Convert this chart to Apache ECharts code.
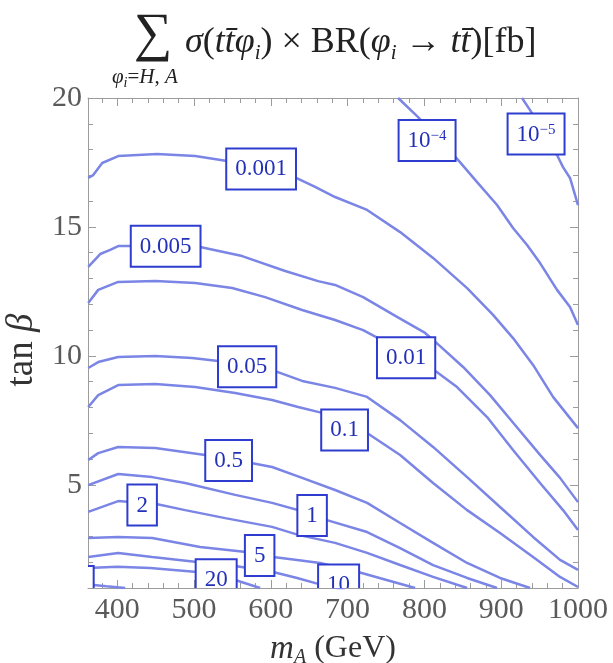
<!DOCTYPE html>
<html><head><meta charset="utf-8">
<script src="https://cdn.jsdelivr.net/npm/echarts@6/dist/echarts.min.js"></script>
<style>html,body{margin:0;padding:0;background:#fff}#c{width:613px;height:663px}</style>
</head><body><div id="c"></div>
<script>
// ---- tick values ----
const xMajor = [400, 500, 600, 700, 800, 900, 1000];
const xMinor = [380, 420, 440, 460, 480, 520, 540, 560, 580, 620, 640, 660, 680, 720, 740, 760, 780, 820, 840, 860, 880, 920, 940, 960, 980];
const yMajor = [5, 10, 15, 20];
const yMinor = [2, 3, 4, 6, 7, 8, 9, 11, 12, 13, 14, 16, 17, 18, 19];

// ---- contour lines: [mA (GeV), tan beta] ----
const c1e5 = [[927.1,20],[937.6,19.53],[972.7,17.79],[980.5,17.32],[989.6,16.90],[1000,15.85]];
const c1e4 = [[765.8,20],[791.8,19.26],[843.8,17.60],[868.6,16.74],[894.6,15.85],[915.4,14.96],[933.7,14.30],[950.6,13.60],[972.7,12.56],[989.6,11.90],[1000,11.20]];
const c0001 = [[362.3,16.90],[368.8,17.01],[380.5,17.48],[401.3,17.75],[452.1,17.83],[501.5,17.75],[543.2,17.56],[633.0,16.90],[657.7,16.55],[683.7,16.16],[725.4,15.66],[768.4,14.80],[811.3,13.80],[855.6,12.63],[889.4,11.59],[915.4,10.69],[941.5,9.65],[967.5,8.41],[1000,7.20]];
const c0005 = [[362.3,13.45],[377.9,13.95],[390.9,14.11],[401.3,14.26],[418.2,14.26],[508.0,14.22],[562.7,13.87],[618.7,13.29],[661.6,12.90],[683.7,12.75],[720.2,12.28],[764.4,11.51],[800.9,10.89],[820.4,10.38],[850.4,9.57],[885.5,8.48],[918.0,7.32],[950.6,6.16],[976.6,5.27],[1000,4.33]];
const c001 = [[362.3,12.05],[375.3,12.56],[401.3,12.87],[449.5,12.90],[501.5,12.83],[549.7,12.63],[592.6,12.28],[640.8,11.78],[683.7,11.39],[720.2,11.00],[739.7,10.69],[812.6,9.45],[842.5,8.79],[881.6,7.63],[915.4,6.35],[950.6,5.07],[980.5,4.02],[1000,3.25]];
const c005 = [[362.3,9.53],[375.3,9.76],[401.3,9.96],[449.5,10.00],[497.6,9.92],[531.5,9.80],[608.3,9.38],[640.8,9.03],[683.7,8.76],[725.4,8.41],[768.4,7.51],[811.3,6.47],[855.6,5.30],[898.5,4.14],[941.5,2.98],[976.6,2.09],[1000,1.70]];
const c01 = [[362.3,8.02],[375.3,8.48],[401.3,8.87],[449.5,8.91],[501.5,8.79],[553.6,8.56],[601.7,8.29],[635.6,8.02],[666.8,7.79],[725.4,7.01],[768.4,6.16],[811.3,5.07],[855.6,4.02],[898.5,3.13],[941.5,2.20],[976.6,1.43],[1000,1.04]];
const c05 = [[362.3,5.96],[375.3,6.23],[401.3,6.47],[449.5,6.43],[514.5,6.16],[574.4,5.85],[601.7,5.69],[640.8,5.27],[683.7,4.80],[725.4,4.30],[768.4,3.52],[811.3,2.75],[855.6,1.97],[898.5,1.39],[937.6,1.00]];
const c1 = [[362.3,4.99],[401.3,5.42],[445.6,5.30],[488.5,5.07],[553.6,4.61],[601.7,4.30],[653.8,3.87],[672.0,3.64],[725.4,3.17],[768.4,2.55],[811.3,1.89],[855.6,1.39],[894.6,1.00]];
const c2 = [[362.3,3.95],[401.3,4.37],[432.5,4.30],[450.8,4.26],[488.5,4.02],[540.6,3.71],[601.7,3.37],[635.6,3.06],[683.7,2.75],[725.4,2.36],[768.4,1.89],[811.3,1.43],[855.6,1.00]];
const c5 = [[362.3,2.94],[401.3,2.98],[445.6,2.94],[508.0,2.59],[567.9,2.40],[603.0,2.20],[634.3,2.09],[664.2,1.97],[713.7,1.62],[746.2,1.35],[787.9,1.00]];
const c10 = [[362.3,2.20],[401.3,2.36],[445.6,2.20],[504.1,2.01],[553.6,1.85],[603.0,1.62],[634.3,1.39],[661.6,1.16],[696.8,0.92]];
const c20 = [[362.3,1.78],[400.0,1.82],[443.0,1.78],[504.1,1.62],[528.9,1.50],[553.6,1.31],[586.1,1.00]];
const c50 = [[362.3,1.14],[386.0,1.07],[410.4,1.00]];

const contours = [c1e5, c1e4, c0001, c0005, c001, c005, c01, c05, c1, c2, c5, c10, c20, c50];

// ---- contour labels: text and anchor [mA, tan beta] ----
const labelTexts = ['10{sup|\u22125}', '10{sup|\u22124}', '0.001', '0.005', '0.01', '0.05', '0.1', '0.5', '1', '2', '5', '10', '20', '50'];
const labelM = [945.4, 803.5, 587.4, 463.1, 776.2, 569.2, 696.1, 545.1, 653.8, 432.5, 585.5, 688.3, 528.9, 342.7];
const labelT = [18.60, 18.35, 17.25, 14.25, 9.93, 9.58, 7.13, 5.94, 3.81, 4.22, 2.26, 1.12, 1.32, 1.06];

const LINE = '#7b85e5';
const FRAME = '#9c9c9c';
const SERIF = "'Liberation Serif','Times New Roman',serif";

const chart = echarts.init(document.getElementById('c'), null, {renderer: 'canvas'});

function xAx(pos, vals, len, withLine, withLabel) {
  return {
    type: 'value', min: 362, max: 1000, position: pos,
    axisLine: {show: withLine, lineStyle: {color: FRAME, width: 1}},
    axisTick: {show: true, inside: true, length: len, customValues: vals, lineStyle: {color: FRAME, width: 1}},
    axisLabel: withLabel ? {show: true, customValues: vals, margin: 7, fontFamily: SERIF, fontSize: 30, color: '#5a5a5a', formatter: v => String(v)} : {show: false},
    splitLine: {show: false}
  };
}
function yAx(pos, vals, len, withLine, withLabel) {
  return {
    type: 'value', min: 1, max: 20, position: pos,
    axisLine: {show: withLine, lineStyle: {color: FRAME, width: 1}},
    axisTick: {show: true, inside: true, length: len, customValues: vals, lineStyle: {color: FRAME, width: 1}},
    axisLabel: withLabel ? {show: true, customValues: vals, margin: 6, fontFamily: SERIF, fontSize: 30, color: '#5a5a5a', formatter: v => String(v)} : {show: false},
    splitLine: {show: false}
  };
}

const xAxes = [xAx('bottom', xMajor, 8, true, true), xAx('bottom', xMinor, 5, false, false), xAx('top', xMajor, 8, true, false), xAx('top', xMinor, 5, false, false)];
xAxes[0].name = '{i|m}{s|A} (GeV)';
xAxes[0].nameLocation = 'middle';
xAxes[0].nameGap = 38;
xAxes[0].nameTextStyle = {fontFamily: SERIF, fontSize: 32, color: '#333', lineHeight: 38,
  rich: {i: {fontFamily: SERIF, fontStyle: 'italic', fontSize: 33, color: '#333', lineHeight: 38},
         s: {fontFamily: SERIF, fontStyle: 'italic', fontSize: 20, color: '#333', verticalAlign: 'bottom', lineHeight: 20}}};

const yAxes = [yAx('left', yMajor, 8, true, true), yAx('left', yMinor, 5, false, false), yAx('right', yMajor, 8, true, false), yAx('right', yMinor, 5, false, false)];
yAxes[0].name = 'tan {i|\u03b2}';
yAxes[0].nameLocation = 'middle';
yAxes[0].nameGap = 47;
yAxes[0].nameRotate = 90;
yAxes[0].nameTextStyle = {fontFamily: SERIF, fontSize: 37, color: '#333', padding: [0, 14, 0, 0],
  rich: {i: {fontFamily: SERIF, fontStyle: 'italic', fontSize: 37, color: '#333'}}};

const series = contours.map(d => ({
  type: 'line', data: d, showSymbol: false, symbol: 'none', clip: true, silent: true,
  lineStyle: {color: LINE, width: 2.5}, z: 2
}));

const labelData = labelTexts.map((t, i) => [labelM[i], labelT[i], i]);
series.push({
  type: 'custom', coordinateSystem: 'cartesian2d', clip: true, z: 10, silent: true,
  data: labelData,
  renderItem: function (params, api) {
    const p = api.coord([api.value(0), api.value(1)]);
    return {
      type: 'text', x: p[0], y: p[1],
      style: {
        text: labelTexts[api.value(2)],
        align: 'center', verticalAlign: 'middle',
        fontFamily: SERIF, fontSize: 23, fill: '#2330b8', lineHeight: 24,
        backgroundColor: '#ffffff', borderColor: '#2f3cd0', borderWidth: 2,
        padding: [8, 8, 7, 8],
        rich: {sup: {fontFamily: SERIF, fontSize: 15, fill: '#2330b8', verticalAlign: 'top', lineHeight: 24}}
      }
    };
  }
});

const option = {
  animation: false,
  backgroundColor: '#ffffff',
  title: [
    {text: '\u2211', left: 129, top: 4, textStyle: {fontFamily: SERIF, fontSize: 54, fontWeight: 'normal', color: '#222'}},
    {text: '{i|\u03c6}{s|i}{n|=}{i|H}{n|, }{i|A}', left: 107, top: 60,
     textStyle: {fontFamily: SERIF, fontSize: 21, fontWeight: 'normal', color: '#222',
       rich: {i: {fontFamily: SERIF, fontStyle: 'italic', fontSize: 21, color: '#222', lineHeight: 25},
              n: {fontFamily: SERIF, fontSize: 21, color: '#222', lineHeight: 25},
              s: {fontFamily: SERIF, fontStyle: 'italic', fontSize: 14, color: '#222', verticalAlign: 'bottom', lineHeight: 14}}}},
    {text: '{i|\u03c3}{n|(}{i|tt\u0304\u03c6}{s|i}{n|) \u00d7 BR(}{i|\u03c6}{s|i}{n| \u2192 }{i|tt\u0304}{n|)[fb]}', left: 180, top: 17,
     textStyle: {fontFamily: SERIF, fontSize: 36, fontWeight: 'normal', color: '#222',
       rich: {i: {fontFamily: SERIF, fontStyle: 'italic', fontSize: 36, color: '#222', lineHeight: 42},
              n: {fontFamily: SERIF, fontSize: 36, color: '#222', lineHeight: 42},
              s: {fontFamily: SERIF, fontStyle: 'italic', fontSize: 21, color: '#222', verticalAlign: 'bottom', lineHeight: 21}}}}
  ],
  grid: {left: 88, right: 35, top: 98, bottom: 75, containLabel: false, outerBoundsMode: 'none'},
  xAxis: xAxes,
  yAxis: yAxes,
  series: series
};
chart.setOption(option);
</script>
</body></html>
